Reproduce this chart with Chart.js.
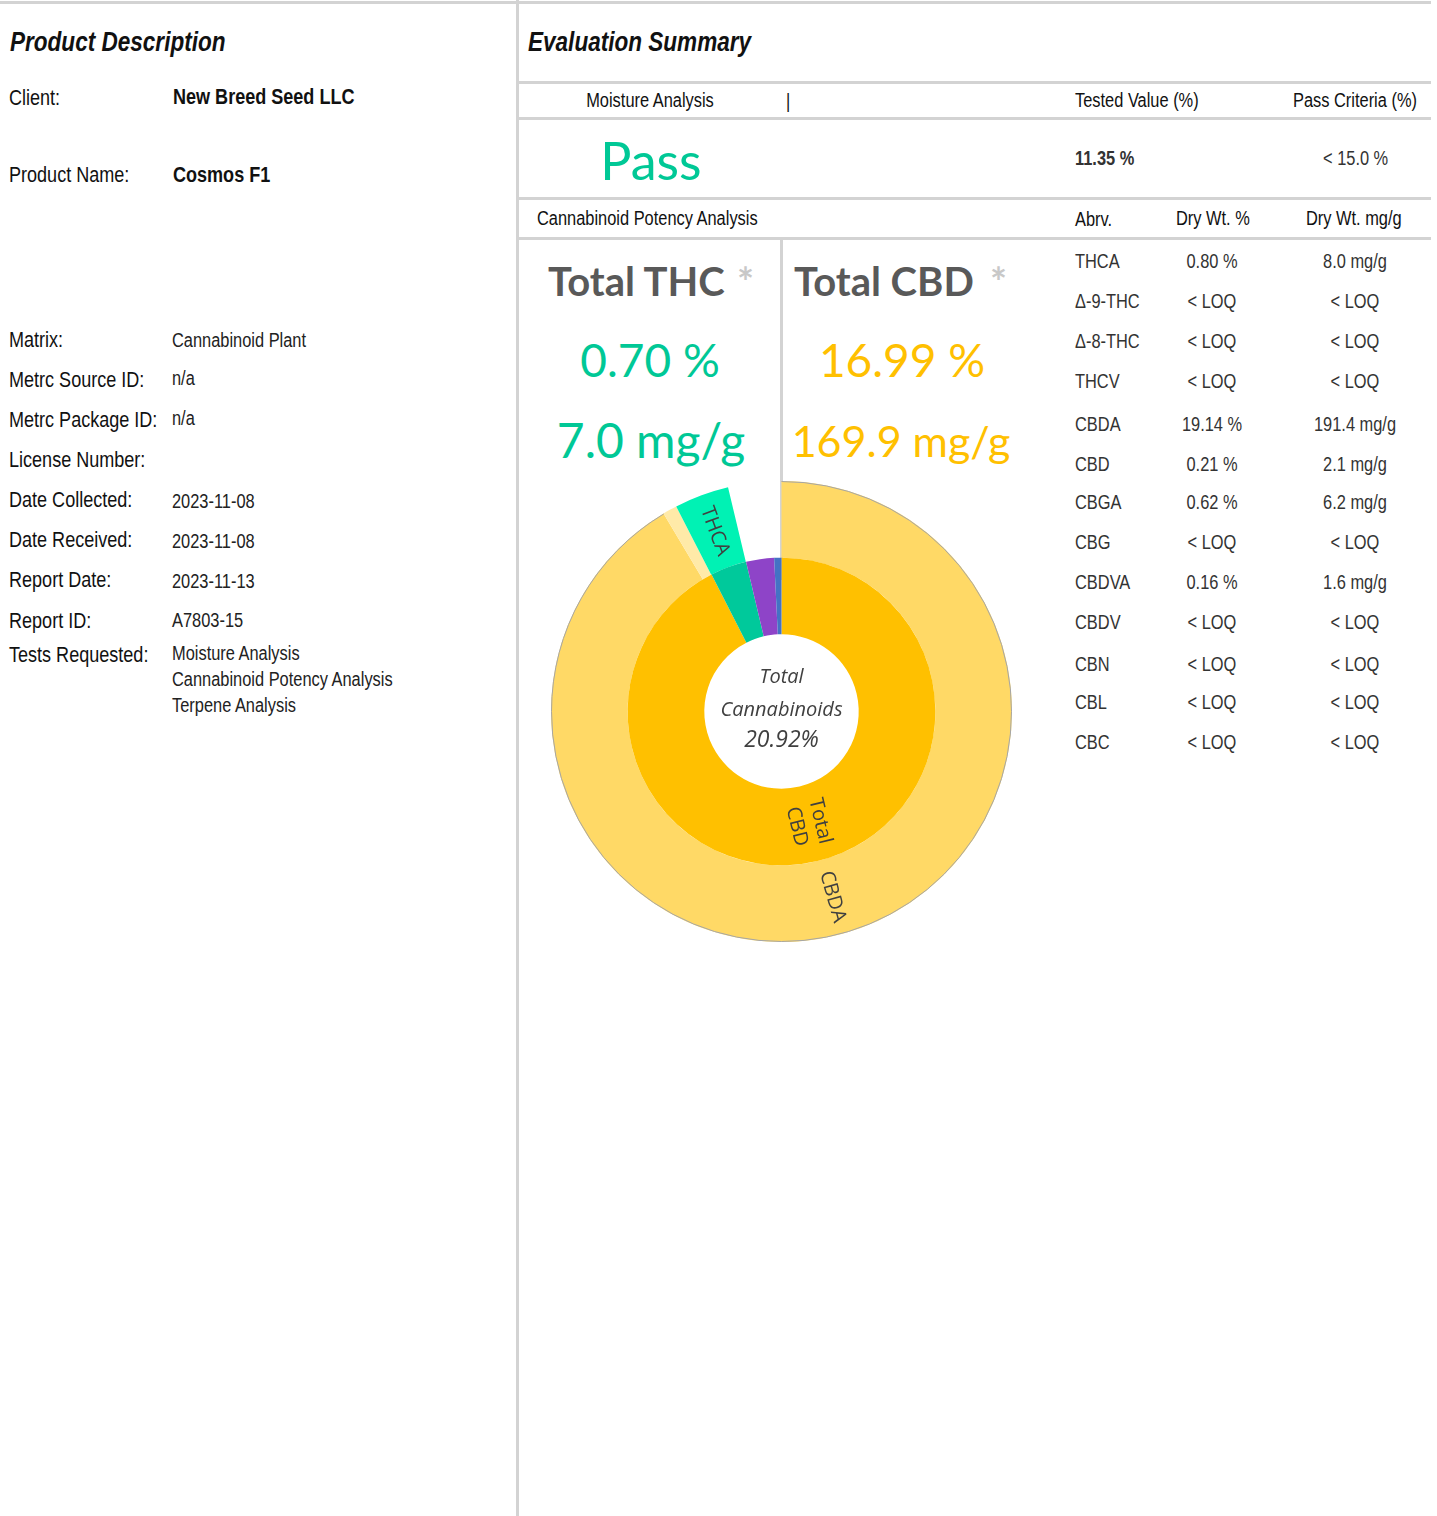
<!DOCTYPE html>
<html>
<head>
<meta charset="utf-8">
<script src="https://cdn.jsdelivr.net/npm/chart.js@4.4.0/dist/chart.umd.min.js"></script>
<style>
  body { margin: 0; background: #fff; }
  #page { position: relative; width: 1437px; height: 1516px; overflow: hidden;
          font-family: "Liberation Sans", Arial, sans-serif; color: #111; }
  .t { position: absolute; white-space: nowrap; line-height: 1;
       transform-origin: left center; transform: translateY(-50%) scaleX(0.82); }
  .c { transform-origin: center center; transform: translate(-50%, -50%) scaleX(0.82); }
  .cg { font-family: Lato, "Open Sans", sans-serif; transform: translateY(-50%); }
  .cg.c { transform: translate(-50%, -50%); }
  .line { position: absolute; background: #d3d3d3; }
  #chartBox { position: absolute; left: 551px; top: 481px; width: 461px; height: 461px; }
</style>
</head>
<body>
<div id="page">
  <div class="line" style="left:0;top:1px;width:1431px;height:3px"></div>
  <div class="line" style="left:516px;top:0;width:3px;height:1516px"></div>
  <div class="line" style="left:519px;top:81px;width:912px;height:3px"></div>
  <div class="line" style="left:519px;top:117px;width:912px;height:3px"></div>
  <div class="line" style="left:519px;top:197px;width:912px;height:3px"></div>
  <div class="line" style="left:519px;top:237px;width:912px;height:3px"></div>
  <div class="line" style="left:780px;top:240px;width:3px;height:340px"></div>

  <div class="t" style="left:10px;top:42px;font-size:27.5px;font-weight:bold;font-style:italic">Product Description</div>
  <div class="t" style="left:9px;top:98px;font-size:22px">Client:</div>
  <div class="t" style="left:173px;top:97px;font-size:22px;font-weight:bold">New Breed Seed LLC</div>
  <div class="t" style="left:9px;top:175px;font-size:22px">Product Name:</div>
  <div class="t" style="left:173px;top:175px;font-size:22px;font-weight:bold">Cosmos F1</div>

  <div class="t" style="left:528px;top:42px;font-size:27.5px;font-weight:bold;font-style:italic">Evaluation Summary</div>
  <div class="t c" style="left:650px;top:100px;font-size:20px">Moisture Analysis</div>
  <div class="t" style="left:786px;top:101px;font-size:20px">|</div>
  <div class="t" style="left:1075px;top:100px;font-size:20px">Tested Value (%)</div>
  <div class="t" style="left:1293px;top:100px;font-size:20px">Pass Criteria (%)</div>
  <div class="t c cg" style="left:651px;top:160px;font-size:52px;color:#00c896">Pass</div>
  <div class="t" style="left:1075px;top:158px;font-size:20px;font-weight:bold;color:#333">11.35 %</div>
  <div class="t" style="left:1323px;top:158px;font-size:20px;color:#333">&lt; 15.0 %</div>
  <div class="t" style="left:537px;top:218px;font-size:20px">Cannabinoid Potency Analysis</div>
  <div class="t" style="left:1075px;top:219px;font-size:20px">Abrv.</div>
  <div class="t" style="left:1176px;top:218px;font-size:20px">Dry Wt. %</div>
  <div class="t" style="left:1306px;top:218px;font-size:20px">Dry Wt. mg/g</div>

  <div class="t cg" style="left:548px;top:281px;font-size:40px;font-weight:bold;color:#595959">Total THC</div>
  <div class="t cg" style="left:737px;top:282px;font-size:40px;font-weight:bold;color:#c8c8c8">*</div>
  <div class="t cg" style="left:794px;top:281px;font-size:40px;font-weight:bold;color:#595959">Total CBD</div>
  <div class="t cg" style="left:990px;top:282px;font-size:40px;font-weight:bold;color:#c8c8c8">*</div>
  <div class="t c cg" style="left:650px;top:360px;font-size:46px;color:#00c896">0.70 %</div>
  <div class="t c cg" style="left:651px;top:440px;font-size:48px;color:#00c896">7.0 mg/g</div>
  <div class="t c cg" style="left:902px;top:360px;font-size:46px;color:#ffc000">16.99 %</div>
  <div class="t c cg" style="left:901px;top:440px;font-size:43px;color:#ffc000">169.9 mg/g</div>

  <div id="chartBox"><canvas id="myChart"></canvas></div>
</div>

<script>
// left panel details
const detailLabels = ['Matrix:', 'Metrc Source ID:', 'Metrc Package ID:', 'License Number:', 'Date Collected:', 'Date Received:', 'Report Date:', 'Report ID:', 'Tests Requested:'];
const detailValues = ['Cannabinoid Plant', 'n/a', 'n/a', '', '2023-11-08', '2023-11-08', '2023-11-13', 'A7803-15', 'Moisture Analysis'];
const testsExtra = ['Cannabinoid Potency Analysis', 'Terpene Analysis'];

// potency table
const abbrevs = ['THCA', 'Δ-9-THC', 'Δ-8-THC', 'THCV', 'CBDA', 'CBD', 'CBGA', 'CBG', 'CBDVA', 'CBDV', 'CBN', 'CBL', 'CBC'];
const dryPct = ['0.80 %', '< LOQ', '< LOQ', '< LOQ', '19.14 %', '0.21 %', '0.62 %', '< LOQ', '0.16 %', '< LOQ', '< LOQ', '< LOQ', '< LOQ'];
const dryMg = ['8.0 mg/g', '< LOQ', '< LOQ', '< LOQ', '191.4 mg/g', '2.1 mg/g', '6.2 mg/g', '< LOQ', '1.6 mg/g', '< LOQ', '< LOQ', '< LOQ', '< LOQ'];

// doughnut: outer ring = individual cannabinoids, inner ring = totals
const outerNames = ['CBDA', 'CBD', 'THCA', 'CBGA', 'CBDVA'];
const outerValues = [19.14, 0.21, 0.80, 0.62, 0.16];
const outerShown = ['CBDA', '', 'THCA', '', ''];
const innerNames = ['Total CBD', 'Total THC', 'Total CBG', 'Total CBDV'];
const innerValues = [16.99, 0.70, 0.54, 0.14];
const innerShown = [['Total', 'CBD'], '', '', ''];
const totalCannabinoids = '20.92%';

const page = document.getElementById('page');
function addText(txt, x, y, size, extra) {
  const d = document.createElement('div');
  d.className = 't' + (extra && extra.center ? ' c' : '');
  d.style.left = x + 'px';
  d.style.top = y + 'px';
  d.style.fontSize = size + 'px';
  if (extra && extra.color) d.style.color = extra.color;
  d.textContent = txt;
  page.appendChild(d);
}

const labelY = [340, 380, 420, 460, 500, 540, 580, 621, 655];
const valueY = [340, 378, 418, 460, 501, 541, 581, 620, 653];
detailLabels.forEach((l, i) => {
  addText(l, 9, labelY[i], 22);
  if (detailValues[i]) addText(detailValues[i], 172, valueY[i], 20, { color: '#222' });
});
testsExtra.forEach((t, i) => addText(t, 172, 679 + i * 26, 20, { color: '#222' }));

const rowY = [261, 301, 341, 381, 424, 464, 502, 542, 582, 622, 664, 702, 742];
abbrevs.forEach((a, i) => {
  addText(a, 1075, rowY[i], 20, { color: '#333' });
  addText(dryPct[i], 1212, rowY[i], 20, { color: '#333', center: true });
  addText(dryMg[i], 1355, rowY[i], 20, { color: '#333', center: true });
});

const ctx = document.getElementById('myChart');

const ringLabels = {
  id: 'ringLabels',
  afterDatasetsDraw(chart) {
    const c = chart.ctx;
    // thin grey edge on the outside of the big CBDA slice
    const big = chart.getDatasetMeta(0).data[0];
    c.save();
    c.strokeStyle = '#a6a6a6';
    c.lineWidth = 1;
    c.beginPath();
    c.arc(big.x, big.y, big.outerRadius - 0.5, big.startAngle, big.endAngle);
    c.stroke();
    c.restore();

    chart.data.datasets.forEach((ds, i) => {
      const meta = chart.getDatasetMeta(i);
      meta.data.forEach((arc, j) => {
        const txt = ds.shown[j];
        if (!txt) return;
        const mid = (arc.startAngle + arc.endAngle) / 2;
        const r = (arc.innerRadius + arc.outerRadius) / 2;
        let rot = mid;
        while (rot > Math.PI / 2) rot -= Math.PI;
        while (rot <= -Math.PI / 2) rot += Math.PI;
        const lines = Array.isArray(txt) ? txt : [txt];
        c.save();
        c.translate(arc.x + Math.cos(mid) * r, arc.y + Math.sin(mid) * r);
        c.rotate(rot);
        c.font = '20px "Open Sans", sans-serif';
        c.fillStyle = '#404040';
        c.textAlign = 'center';
        c.textBaseline = 'middle';
        const lh = 24;
        lines.forEach((ln, k) => c.fillText(ln, 0, (k - (lines.length - 1) / 2) * lh));
        c.restore();
      });
    });

    // centre text
    const a0 = chart.getDatasetMeta(1).data[0];
    c.save();
    c.fillStyle = '#404040';
    c.textAlign = 'center';
    c.textBaseline = 'middle';
    c.font = 'italic 20px "Open Sans", sans-serif';
    c.fillText('Total', a0.x, a0.y - 34);
    c.fillText('Cannabinoids', a0.x, a0.y - 1);
    c.font = 'italic 23px "Open Sans", sans-serif';
    c.fillText(totalCannabinoids, a0.x, a0.y + 29);
    c.restore();
  }
};

new Chart(ctx, {
  type: 'doughnut',
  data: {
    labels: outerNames,
    datasets: [{
      label: 'Cannabinoids',
      data: outerValues,
      shown: outerShown,
      backgroundColor: ['#ffd966', '#ffeaa8', '#00f2b4', 'rgba(0,0,0,0)', 'rgba(0,0,0,0)'],
      borderWidth: 0,
      order: 2
    }, {
      label: 'Totals',
      data: innerValues,
      shown: innerShown,
      names: innerNames,
      backgroundColor: ['#ffc000', '#00c99b', '#8e44c8', '#4472c4'],
      borderWidth: 0,
      order: 1
    }]
  },
  options: {
    responsive: true,
    maintainAspectRatio: false,
    animation: false,
    cutout: '33.5%',
    layout: { padding: 0 },
    plugins: {
      legend: { display: false },
      tooltip: { enabled: false }
    }
  },
  plugins: [ringLabels]
});
</script>
</body>
</html>
